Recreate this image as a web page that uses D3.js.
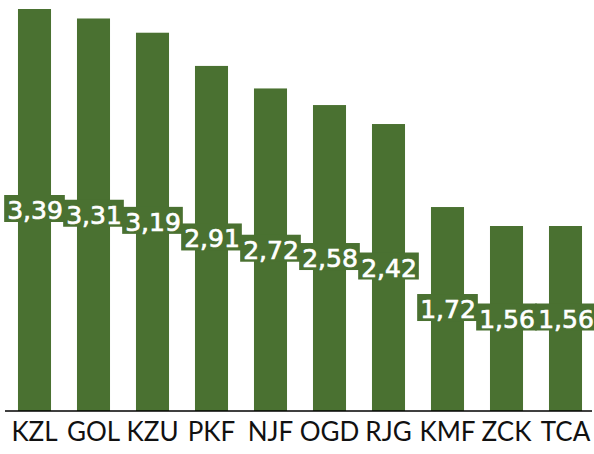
<!DOCTYPE html>
<html>
<head>
<meta charset="utf-8">
<script src="https://cdn.jsdelivr.net/npm/d3@7"></script>
<style>
  body { margin: 0; background: #fff; }
  .axis path { stroke: #000; stroke-width: 1.5; }
  .axis line { display: none; }
  .axis text { font-family: Lato, sans-serif; font-size: 26px; fill: #111; }
</style>
</head>
<body>
<svg width="594" height="454"></svg>
<script>
var codes = ["KZL", "GOL", "KZU", "PKF", "NJF", "OGD", "RJG", "KMF", "ZCK", "TCA"];
var waarden = [3.39, 3.31, 3.19, 2.91, 2.72, 2.58, 2.42, 1.72, 1.56, 1.56];

var svg = d3.select("svg"),
    width = +svg.attr("width"),
    height = +svg.attr("height"),
    margin = {top: 9, right: 0, bottom: 43, left: 5},
    groen = "#4a7131";

var data = codes.map(function(c, i) { return {code: c, waarde: waarden[i]}; });

var x = d3.scaleBand()
    .domain(codes)
    .range([margin.left, width - margin.right + 1])
    .paddingInner(0.44)
    .paddingOuter(0.22);

var y = d3.scaleLinear()
    .domain([0, d3.max(waarden)])
    .range([height - margin.bottom, margin.top]);

svg.append("g")
  .selectAll("rect")
  .data(data)
  .enter().append("rect")
    .attr("x", function(d) { return x(d.code); })
    .attr("y", function(d) { return y(d.waarde); })
    .attr("width", x.bandwidth())
    .attr("height", function(d) { return y(0) - y(d.waarde); })
    .attr("fill", groen);

svg.append("g")
    .attr("class", "axis")
    .attr("transform", "translate(0," + y(0) + ")")
    .call(d3.axisBottom(x).tickSize(0).tickPadding(12))
  .select(".domain")
    .attr("d", "M" + margin.left + ",0H" + (width - 2));

var fmt = function(v) { return d3.format(".2f")(v).replace(".", ","); };

var labels = svg.append("g");
var boxes = labels.append("g");
var teksten = labels.append("g");

teksten.selectAll("text")
  .data(data)
  .enter().append("text")
    .attr("x", function(d) { return x(d.code) + x.bandwidth() / 2 + 0.5; })
    .attr("y", function(d) { return (y(d.waarde) + y(0)) / 2 + 9; })
    .attr("text-anchor", "middle")
    .attr("font-family", "'DejaVu Sans', sans-serif")
    .attr("font-size", 25)
    .attr("fill", "#fff")
    .attr("stroke", "#fff")
    .attr("stroke-width", 0.7)
    .text(function(d) { return fmt(d.waarde); })
    .each(function() {
      var b = this.getBBox(),
          basis = +d3.select(this).attr("y");
      boxes.append("rect")
        .attr("x", b.x - 3)
        .attr("y", basis - 24)
        .attr("width", b.width + 5)
        .attr("height", 27)
        .attr("fill", groen);
    });
</script>
</body>
</html>
